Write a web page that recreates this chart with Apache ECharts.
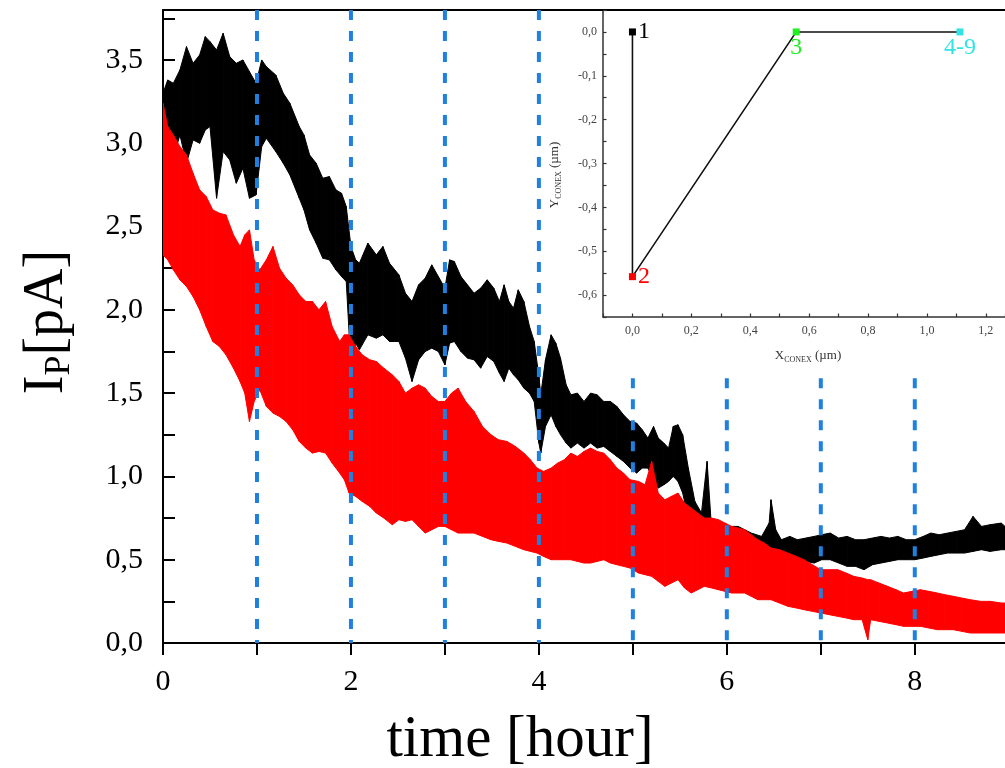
<!DOCTYPE html>
<html>
<head>
<meta charset="utf-8">
<script src="https://cdn.jsdelivr.net/npm/echarts@6/dist/echarts.min.js"></script>
<style>
html,body{margin:0;padding:0;background:#fff;}
#c{width:1005px;height:768px;}
</style>
</head>
<body>
<div id="c"></div>
<script>
// ---- main chart data (time in hours, current in pA; noisy traces read as upper/lower envelope) ----
const blackT  = [0.00,0.05,0.11,0.18,0.25,0.32,0.39,0.45,0.50,0.57,0.64,0.71,0.78,0.85,0.92,0.99,1.05,1.10,1.20,1.28,1.35,1.45,1.50,1.56,1.63,1.70,1.77,1.84,1.90,1.95,2.00,2.05,2.09,2.18,2.27,2.34,2.41,2.51,2.58,2.65,2.72,2.79,2.86,2.93,3.00,3.05,3.10,3.17,3.24,3.31,3.38,3.45,3.52,3.58,3.63,3.68,3.73,3.78,3.84,3.90,3.95,4.00,4.02,4.07,4.13,4.18,4.23,4.29,4.34,4.41,4.48,4.55,4.62,4.69,4.76,4.83,4.90,4.97,5.04,5.10,5.16,5.22,5.27,5.33,5.38,5.43,5.48,5.53,5.59,5.66,5.73,5.79,5.83,5.87,5.94,6.01,6.12,6.19,6.26,6.37,6.45,6.47,6.52,6.58,6.67,6.75,6.84,6.93,7.01,7.10,7.19,7.28,7.37,7.46,7.55,7.64,7.73,7.82,7.91,8.00,8.09,8.17,8.26,8.35,8.44,8.53,8.62,8.71,8.80,8.92,8.96];
const blackHi = [3.30,3.38,3.36,3.44,3.58,3.48,3.53,3.64,3.61,3.56,3.66,3.52,3.48,3.50,3.43,3.36,3.50,3.46,3.41,3.30,3.24,3.10,3.05,2.93,2.88,2.79,2.80,2.72,2.70,2.62,2.38,2.30,2.28,2.40,2.33,2.38,2.28,2.21,2.10,2.05,2.15,2.19,2.27,2.20,2.13,2.30,2.29,2.20,2.15,2.10,2.13,2.18,2.13,2.05,2.15,2.05,2.01,2.12,2.05,1.90,1.81,1.60,1.49,1.70,1.85,1.80,1.71,1.55,1.49,1.50,1.45,1.50,1.49,1.45,1.45,1.42,1.37,1.33,1.32,1.28,1.23,1.30,1.23,1.20,1.17,1.30,1.31,1.25,1.05,0.85,0.78,1.09,0.75,0.72,0.70,0.70,0.70,0.68,0.66,0.64,0.72,0.86,0.68,0.62,0.64,0.62,0.63,0.64,0.65,0.66,0.63,0.64,0.62,0.62,0.63,0.64,0.63,0.64,0.62,0.62,0.64,0.66,0.65,0.66,0.67,0.68,0.76,0.70,0.71,0.72,0.70];
const blackLo = [2.95,3.00,2.91,3.05,2.88,3.02,3.00,3.08,3.10,2.67,2.95,2.90,2.76,2.85,2.67,2.69,2.98,3.03,2.95,2.88,2.81,2.67,2.60,2.48,2.40,2.31,2.30,2.24,2.20,2.17,1.66,1.80,1.76,1.85,1.83,1.85,1.81,1.81,1.71,1.57,1.70,1.75,1.77,1.75,1.67,1.80,1.81,1.75,1.71,1.70,1.65,1.72,1.69,1.62,1.57,1.65,1.61,1.58,1.53,1.50,1.45,1.20,1.14,1.30,1.37,1.30,1.25,1.20,1.17,1.20,1.17,1.20,1.17,1.18,1.15,1.12,1.09,1.05,1.02,1.05,1.05,0.98,0.93,0.95,0.97,1.00,0.97,0.90,0.75,0.70,0.66,0.66,0.64,0.62,0.60,0.60,0.57,0.55,0.54,0.54,0.55,0.55,0.52,0.50,0.50,0.50,0.49,0.48,0.50,0.50,0.48,0.46,0.46,0.44,0.47,0.48,0.49,0.50,0.50,0.50,0.51,0.52,0.53,0.54,0.54,0.54,0.55,0.56,0.55,0.56,0.56];

const redT  = [0.00,0.05,0.11,0.18,0.25,0.32,0.39,0.46,0.53,0.60,0.67,0.75,0.82,0.87,0.92,0.97,1.03,1.10,1.17,1.24,1.31,1.38,1.45,1.52,1.59,1.66,1.73,1.80,1.88,1.93,1.98,2.05,2.12,2.20,2.27,2.35,2.44,2.51,2.58,2.65,2.72,2.79,2.86,2.93,3.00,3.07,3.14,3.22,3.31,3.40,3.49,3.57,3.66,3.75,3.84,3.91,3.98,4.05,4.13,4.20,4.27,4.34,4.41,4.48,4.55,4.62,4.69,4.76,4.83,4.90,4.97,5.06,5.13,5.20,5.27,5.34,5.41,5.48,5.55,5.62,5.69,5.76,5.84,5.91,5.98,6.05,6.12,6.19,6.26,6.33,6.40,6.47,6.56,6.65,6.74,6.82,6.91,7.00,7.09,7.18,7.27,7.35,7.44,7.50,7.53,7.62,7.71,7.80,7.88,7.97,8.06,8.15,8.24,8.32,8.41,8.50,8.59,8.70,8.80,8.92,8.96];
const redHi = [3.24,3.10,3.05,2.98,2.93,2.82,2.72,2.68,2.60,2.58,2.57,2.45,2.38,2.45,2.48,2.30,2.24,2.30,2.38,2.25,2.19,2.15,2.09,2.05,2.05,2.00,2.05,1.90,1.81,1.85,1.85,1.78,1.73,1.70,1.69,1.65,1.61,1.57,1.50,1.53,1.55,1.53,1.48,1.45,1.45,1.50,1.53,1.45,1.39,1.30,1.25,1.22,1.21,1.18,1.14,1.10,1.05,1.03,1.05,1.08,1.10,1.14,1.12,1.15,1.17,1.15,1.14,1.10,1.05,1.02,0.98,0.97,0.95,1.09,0.90,0.86,0.88,0.90,0.84,0.81,0.78,0.75,0.75,0.74,0.72,0.70,0.69,0.68,0.65,0.62,0.60,0.57,0.56,0.54,0.52,0.50,0.47,0.44,0.44,0.44,0.42,0.40,0.39,0.38,0.38,0.36,0.34,0.32,0.30,0.31,0.32,0.31,0.30,0.29,0.28,0.27,0.26,0.25,0.25,0.24,0.24];
const redLo = [2.33,2.30,2.24,2.18,2.14,2.08,2.00,1.90,1.81,1.78,1.73,1.65,1.57,1.50,1.33,1.45,1.52,1.42,1.38,1.36,1.33,1.28,1.21,1.17,1.14,1.15,1.14,1.08,1.02,0.98,0.90,0.88,0.85,0.82,0.78,0.75,0.71,0.74,0.73,0.74,0.70,0.66,0.68,0.70,0.70,0.68,0.66,0.66,0.66,0.64,0.62,0.61,0.60,0.58,0.56,0.55,0.54,0.52,0.50,0.50,0.50,0.50,0.49,0.48,0.48,0.49,0.50,0.48,0.47,0.46,0.45,0.42,0.41,0.40,0.37,0.34,0.36,0.38,0.33,0.30,0.32,0.34,0.33,0.32,0.31,0.30,0.30,0.30,0.28,0.26,0.26,0.26,0.24,0.22,0.21,0.20,0.19,0.18,0.17,0.16,0.15,0.14,0.14,0.02,0.14,0.13,0.12,0.11,0.10,0.10,0.10,0.09,0.08,0.08,0.08,0.07,0.06,0.06,0.06,0.06,0.06];

// vertical dashed markers (hours) and the value where each one starts at the top
const dashT   = [1,2,3,4,5,6,7,8];
const dashTop = [3.8,3.8,3.8,3.8,1.59,1.59,1.59,1.59];

// ---- inset data (CONEX positions, µm) ----
const insetX      = [0, 0, 0.556, 1.112];
const insetY      = [0, -0.558, 0, 0];
const insetNames  = ['1', '2', '3', '4-9'];
const insetColors = ['#000000', '#ff0000', '#22ee22', '#33e3e3'];
const insetXTicks = [0, 0.2, 0.4, 0.6, 0.8, 1.0, 1.2];
const insetYTicks = [-0.6, -0.5, -0.4, -0.3, -0.2, -0.1, 0];

const SERIF = '"Liberation Serif", "DejaVu Serif", serif';
const fmt = v => v.toFixed(1).replace('.', ',').replace('-0,0', '0,0');

function band(T, HI, LO, color, z) {
  const data = [];
  for (let i = 0; i < T.length - 1; i++) data.push([T[i], HI[i], LO[i], T[i+1], HI[i+1], LO[i+1]]);
  return {
    type: 'custom', xAxisIndex: 0, yAxisIndex: 0, z: z, clip: true, silent: true,
    encode: { x: [0, 3], y: [1, 2, 4, 5] },
    data: data,
    renderItem: function (params, api) {
      const a = api.coord([api.value(0), api.value(1)]);
      const b = api.coord([api.value(3), api.value(4)]);
      const c = api.coord([api.value(3), api.value(5)]);
      const d = api.coord([api.value(0), api.value(2)]);
      return { type: 'polygon', shape: { points: [a, b, c, d] },
               style: { fill: color, stroke: color, lineWidth: 1 } };
    }
  };
}

const dashSeries = dashT.map((t, i) => ({
  type: 'line', xAxisIndex: 0, yAxisIndex: 0, z: 10, silent: true, symbol: 'none',
  data: [[t, dashTop[i]], [t, 0]],
  lineStyle: { color: '#1f80e0', width: 4, type: [10, 11] }
}));

const chart = echarts.init(document.getElementById('c'), null, { renderer: 'canvas' });
chart.setOption({
  animation: false,
  backgroundColor: '#ffffff',
  grid: [
    { left: 163, top: 10, right: 0, bottom: 125, containLabel: false },
    { left: 603, top: 10, right: 0, height: 307, containLabel: false }
  ],
  xAxis: [
    { gridIndex: 0, type: 'value', min: 0, max: 8.96, interval: 1, position: 'bottom',
      axisLine: { show: true, onZero: false, lineStyle: { color: '#000', width: 2 } },
      axisTick: { show: true, inside: false, length: 12, lineStyle: { color: '#000', width: 2 } },
      axisLabel: { show: true, margin: 24, fontFamily: SERIF, fontSize: 30, color: '#000',
                   formatter: v => (Math.round(v) % 2 === 0 && v < 8.9) ? String(Math.round(v)) : '',
                   showMaxLabel: false },
      splitLine: { show: false } },
    { gridIndex: 0, type: 'value', min: 0, max: 8.96, position: 'top',
      axisLine: { show: true, onZero: false, lineStyle: { color: '#000', width: 2 } },
      axisTick: { show: false }, axisLabel: { show: false }, splitLine: { show: false } },
    { gridIndex: 1, type: 'value', min: -0.1, max: 1.265, interval: 0.1, position: 'bottom',
      axisLine: { show: true, onZero: false, lineStyle: { color: '#333', width: 1.5 } },
      axisTick: { show: true, inside: true, length: 3.5, lineStyle: { color: '#333', width: 1.2 } },
      axisLabel: { show: true, margin: 8, customValues: insetXTicks, fontFamily: SERIF, fontSize: 12, color: '#444', formatter: fmt },
      splitLine: { show: false } }
  ],
  yAxis: [
    { gridIndex: 0, type: 'value', min: 0, max: 3.8, interval: 0.5,
      axisLine: { show: true, onZero: false, lineStyle: { color: '#000', width: 2 } },
      axisTick: { show: true, inside: true, length: 12, lineStyle: { color: '#000', width: 2 } },
      minorTick: { show: true, splitNumber: 2, length: 12, lineStyle: { color: '#000', width: 2 } },
      axisLabel: { show: true, margin: 20, fontFamily: SERIF, fontSize: 30, color: '#000', formatter: fmt, showMaxLabel: false },
      splitLine: { show: false } },
    { gridIndex: 1, type: 'value', min: -0.65, max: 0.05, interval: 0.05,
      axisLine: { show: true, onZero: false, lineStyle: { color: '#333', width: 1.5 } },
      axisTick: { show: true, inside: true, length: 3.5, lineStyle: { color: '#333', width: 1.2 } },
      axisLabel: { show: true, margin: 6, customValues: insetYTicks, fontFamily: SERIF, fontSize: 12, color: '#444', formatter: fmt },
      splitLine: { show: false } }
  ],
  series: [
    band(blackT, blackHi, blackLo, '#000000', 2),
    band(redT, redHi, redLo, '#ff0000', 3),
    ...dashSeries,
    { type: 'line', xAxisIndex: 2, yAxisIndex: 1, z: 5, silent: true,
      data: insetX.map((x, i) => ({
        value: [x, insetY[i]],
        itemStyle: { color: insetColors[i] },
        label: { show: true, formatter: insetNames[i], color: insetColors[i], fontFamily: SERIF, fontSize: 24,
                 position: (i === 0 || i === 1) ? 'right' : 'bottom', distance: (i === 0 || i === 1) ? 2 : 0 }
      })),
      symbol: 'rect', symbolSize: 7, showAllSymbol: true,
      lineStyle: { color: '#111', width: 1.6 } }
  ],
  graphic: [
    { type: 'text', x: 47, y: 322, rotation: Math.PI / 2,
      style: { text: '{a|I}{s|P}{a|[pA]}', align: 'center', verticalAlign: 'middle',
               rich: { a: { fontFamily: SERIF, fontSize: 56, lineHeight: 62, verticalAlign: 'middle', fill: '#000' },
                       s: { fontFamily: SERIF, fontSize: 36, lineHeight: 62, verticalAlign: 'bottom', fill: '#000' } } } },
    { type: 'text', x: 520, y: 740,
      style: { text: 'time [hour]', font: '59px ' + SERIF, fill: '#000', align: 'center', verticalAlign: 'middle' } },
    { type: 'text', x: 808, y: 356,
      style: { text: '{a|X}{s|CONEX}{a| (µm)}', align: 'center', verticalAlign: 'middle',
               rich: { a: { fontFamily: SERIF, fontSize: 13, lineHeight: 16, verticalAlign: 'middle', fill: '#333' },
                       s: { fontFamily: SERIF, fontSize: 8, lineHeight: 16, verticalAlign: 'bottom', fill: '#333' } } } },
    { type: 'text', x: 555, y: 175, rotation: Math.PI / 2,
      style: { text: '{a|Y}{s|CONEX}{a| (µm)}', align: 'center', verticalAlign: 'middle',
               rich: { a: { fontFamily: SERIF, fontSize: 13, lineHeight: 16, verticalAlign: 'middle', fill: '#333' },
                       s: { fontFamily: SERIF, fontSize: 8, lineHeight: 16, verticalAlign: 'bottom', fill: '#333' } } } }
  ]
});
</script>
</body>
</html>
